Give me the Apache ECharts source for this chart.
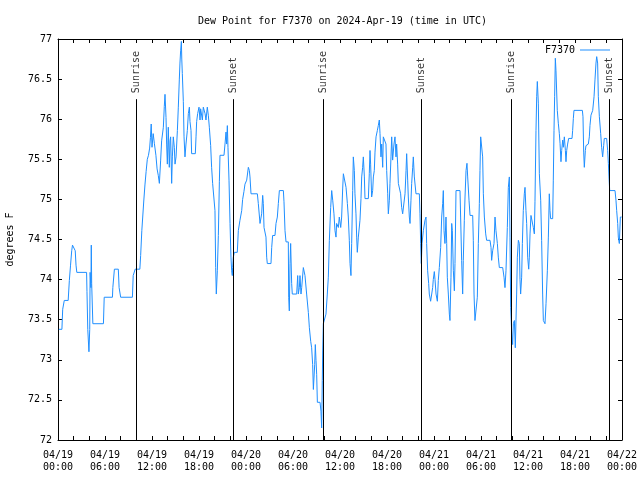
<!DOCTYPE html>
<html>
<head>
<meta charset="utf-8">
<script src="https://cdn.jsdelivr.net/npm/echarts@6/dist/echarts.min.js"></script>
<style>html,body{margin:0;padding:0;background:#fff}#c{width:640px;height:480px}</style>
</head>
<body>
<div id="c"></div>
<script>
// Hours since 2024-04-19 00:00 UTC
const hours = [
0.1,0.5,0.6,0.8,1.3,1.45,1.6,1.75,1.85,2.1,2.2,2.3,2.4,3.65,3.7,3.8,3.95,4.05,4.1,4.2,4.25,4.3,4.45,5.8,5.9,6.95,7.0,7.2,7.7,7.8,8.0,9.5,9.6,9.85,10.45,10.55,10.7,10.95,11.1,11.25,11.4,11.55,11.7,11.8,11.9,
12.0,12.15,12.3,12.5,12.65,12.8,12.94,13.1,13.23,13.45,13.57,13.66,13.79,13.87,13.96,14.08,14.21,14.3,14.38,14.51,14.6,14.72,14.85,14.94,15.07,15.24,15.36,15.49,15.57,15.66,15.75,15.8,15.87,16.0,16.09,16.21,16.34,16.51,16.64,16.77,16.85,16.98,17.06,17.53,17.62,17.7,17.83,18.0,18.13,18.21,18.43,18.55,18.77,18.89,19.06,19.19,19.32,19.49,19.61,19.74,19.96,20.04,20.13,20.21,20.34,20.47,20.6,20.68,21.19,21.32,21.45,21.53,21.62,21.7,21.83,21.96,22.08,22.17,22.25,22.3,22.38,22.51,22.89,23.02,23.23,23.45,23.57,23.74,23.87,
24.09,24.3,24.43,24.51,24.64,25.45,25.57,25.79,25.87,26.0,26.13,26.21,26.3,26.55,26.64,26.72,27.19,27.28,27.4,27.7,27.83,28.0,28.13,28.26,28.77,28.85,28.98,29.11,29.4,29.45,29.53,29.62,29.7,29.83,29.91,30.47,30.6,30.68,30.81,30.89,31.02,31.11,31.32,31.45,31.53,31.74,31.96,32.09,32.26,32.38,32.51,32.6,32.77,32.85,32.94,33.02,33.11,33.28,33.45,33.57,33.66,33.74,33.79,33.87,34.09,34.21,34.38,34.51,34.64,34.81,34.94,35.07,35.23,35.36,35.49,35.57,35.79,35.91,
36.09,36.21,36.34,36.43,36.64,36.77,36.94,37.06,37.19,37.28,37.4,37.49,37.62,37.7,37.83,37.91,38.04,38.13,38.21,38.34,38.55,38.68,38.77,38.89,38.98,39.11,39.19,39.62,39.74,39.83,39.91,40.04,40.17,40.26,40.38,40.47,40.6,40.77,40.89,41.02,41.11,41.23,41.32,41.45,41.53,41.66,41.87,41.96,42.09,42.17,42.3,42.38,42.51,42.6,42.72,42.81,42.89,43.02,43.15,43.23,43.36,43.45,43.66,43.74,43.87,44.0,44.17,44.3,44.43,44.51,44.64,44.72,44.85,44.94,45.06,45.15,45.28,45.36,45.49,45.7,46.13,46.21,46.3,46.38,46.47,46.64,46.85,46.98,47.06,47.19,47.32,47.4,47.57,47.7,47.83,47.91,
48.04,48.13,48.26,48.43,48.55,48.68,48.85,48.98,49.11,49.19,49.28,49.4,49.53,49.62,49.7,49.83,49.96,50.04,50.17,50.26,50.34,50.47,50.6,50.68,50.81,51.32,51.4,51.53,51.66,51.74,51.87,51.96,52.09,52.21,52.3,52.47,52.6,52.94,53.02,53.11,53.23,53.45,53.53,53.66,53.79,53.87,53.96,54.09,54.21,54.3,54.43,54.6,54.72,55.15,55.28,55.36,55.49,55.66,55.79,55.91,56.09,56.21,56.34,56.77,56.94,57.06,57.19,57.36,57.49,57.62,57.7,57.79,57.91,58.04,58.13,58.26,58.38,58.55,58.64,58.77,58.89,58.98,59.06,59.19,59.28,59.4,59.53,59.62,59.74,59.83,59.96,
60.09,60.17,60.26,60.38,60.51,60.68,60.81,60.89,61.02,61.11,61.19,61.32,61.45,61.62,61.74,61.87,61.96,62.17,62.3,62.47,62.6,62.72,62.81,62.89,63.15,63.23,63.32,63.4,63.49,63.57,63.74,63.87,64.0,64.09,64.21,64.3,64.43,64.51,64.64,64.77,64.85,64.94,65.06,65.19,65.62,65.7,65.79,65.87,66.94,67.02,67.11,67.19,67.32,67.4,67.7,67.83,67.91,68.04,68.26,68.43,68.55,68.68,68.77,68.89,68.98,69.11,69.28,69.4,69.53,69.66,69.74,70.04,70.17,70.26,70.34,70.43,71.11,71.23,71.32,71.45,71.53,71.66,71.79,71.95
];
const dewPoint = [
73.38,73.38,73.63,73.74,73.74,73.99,74.18,74.36,74.43,74.43,74.36,74.18,74.09,74.09,73.85,73.38,73.1,73.38,74.09,73.9,74.43,73.95,73.45,73.45,73.78,73.78,73.9,74.13,74.13,73.9,73.78,73.78,74.05,74.13,74.13,74.3,74.61,74.98,75.18,75.35,75.5,75.55,75.64,75.77,75.94,
75.65,75.82,75.7,75.55,75.38,75.3,75.2,75.48,75.73,75.9,76.16,76.31,76.02,75.69,75.44,75.9,75.4,75.73,75.78,75.2,75.53,75.78,75.65,75.44,75.53,75.86,76.15,76.5,76.7,76.86,76.97,76.75,76.57,76.22,75.78,75.53,75.69,75.86,76.07,76.15,75.97,75.86,75.57,75.57,75.78,75.97,76.07,76.15,75.99,76.13,75.99,76.15,76.07,75.99,76.15,76.05,75.9,75.67,75.4,75.2,75.18,74.86,74.15,73.82,74.11,74.55,75.22,75.55,75.55,75.69,75.84,75.69,75.92,75.65,75.24,74.7,74.28,74.11,74.05,74.15,74.28,74.34,74.34,74.61,74.74,74.86,75.0,75.1,75.19,
75.24,75.4,75.36,75.28,75.07,75.07,74.95,74.7,74.7,74.82,75.05,74.95,74.65,74.53,74.28,74.2,74.2,74.4,74.55,74.55,74.7,74.78,74.95,75.11,75.11,74.97,74.61,74.47,74.47,73.78,73.61,74.2,74.45,73.95,73.82,73.82,74.05,73.82,73.9,74.05,73.82,73.9,74.15,74.13,74.05,73.82,73.59,73.4,73.23,73.15,72.94,72.63,72.94,73.19,72.99,72.82,72.47,72.45,72.47,72.36,72.15,72.74,73.11,73.45,73.45,73.57,73.82,74.03,74.49,74.9,75.11,74.99,74.82,74.61,74.53,74.7,74.65,74.78,
74.65,74.78,75.13,75.32,75.32,75.15,74.95,74.78,74.49,74.2,74.05,74.45,75.11,75.53,75.36,75.07,74.82,74.53,74.34,74.53,74.74,75.01,75.28,75.4,75.53,75.28,75.01,75.01,75.32,75.61,75.44,75.03,75.11,75.28,75.36,75.59,75.78,75.86,75.92,75.99,75.82,75.53,75.69,75.4,75.78,75.78,75.69,75.36,75.07,74.82,74.99,75.2,75.53,75.78,75.49,75.51,75.69,75.78,75.53,75.69,75.44,75.2,75.2,75.07,74.9,74.82,74.82,75.07,75.36,75.57,75.24,75.03,74.78,74.7,74.99,75.2,75.4,75.53,75.28,75.07,75.07,74.82,74.45,74.2,74.45,74.61,74.74,74.78,74.45,74.11,73.95,73.82,73.73,73.73,73.9,74.0,
74.1,74.0,73.82,73.73,73.99,74.15,74.4,74.78,74.95,75.11,74.61,74.45,74.78,74.45,74.03,73.82,73.57,73.49,74.03,74.7,74.61,74.11,73.86,74.2,75.11,75.11,74.78,74.24,73.82,74.24,74.74,75.03,75.36,75.45,75.28,74.99,74.8,74.8,74.49,73.82,73.49,73.49,73.78,74.45,74.95,75.36,75.78,75.78,75.53,75.07,74.78,74.57,74.49,74.49,74.4,74.24,74.36,74.45,74.78,74.61,74.45,74.28,74.15,74.15,74.03,73.9,74.11,74.65,75.15,75.28,74.53,73.65,73.36,73.19,73.45,73.49,73.15,73.82,74.28,74.49,74.45,74.0,73.82,74.03,74.45,74.86,75.07,75.15,74.86,74.7,74.28,
74.13,74.28,74.57,74.8,74.78,74.65,74.57,74.97,75.86,76.28,76.47,76.2,75.32,74.99,74.49,73.82,73.49,73.45,73.7,74.11,74.53,75.07,74.86,74.76,74.76,75.24,75.86,76.28,76.76,76.61,76.11,75.95,75.82,75.7,75.47,75.61,75.74,75.65,75.78,75.61,75.47,75.61,75.69,75.76,75.76,75.86,76.01,76.11,76.11,76.03,75.59,75.4,75.61,75.67,75.69,75.78,75.92,76.05,76.11,76.28,76.49,76.7,76.78,76.7,76.28,76.03,75.82,75.65,75.53,75.67,75.76,75.76,75.61,75.45,75.28,75.11,75.11,74.99,74.86,74.7,74.53,74.45,74.78,74.78
];
const sunTimes = [9.96, 22.34, 33.83, 46.34, 57.83, 70.34];
const sunLabels = ['Sunrise', 'Sunset', 'Sunrise', 'Sunset', 'Sunrise', 'Sunset'];
const sunLineTop = 76.25;

const FONT = 'DejaVu Sans Mono';
const pad = n => (n < 10 ? '0' : '') + n;
const xLabel = v => {
  const d = 19 + Math.floor(v / 24);
  return '04/' + pad(d) + '\n' + pad(v % 24) + ':00';
};
const lineData = hours.map((h, i) => [h, dewPoint[i]]);
const sunMarks = sunTimes.map(t => [{coord: [t, 72]}, {coord: [t, sunLineTop]}]);
const sunText = sunTimes.map((t, i) => [t, sunLineTop, sunLabels[i]]);

const axisCommon = {
  type: 'value', min: 0, max: 72, interval: 6,
  axisLine: {show: true, onZero: false, lineStyle: {color: '#000', width: 1}},
  axisTick: {show: true, inside: true, length: 4, lineStyle: {color: '#000'}},
  minorTick: {show: true, splitNumber: 3, length: 4, lineStyle: {color: '#000'}},
  splitLine: {show: false}
};
const yCommon = {
  type: 'value', min: 72, max: 77, interval: 0.5,
  axisLine: {show: true, onZero: false, lineStyle: {color: '#000', width: 1}},
  axisTick: {show: true, inside: true, length: 4, lineStyle: {color: '#000'}},
  splitLine: {show: false}
};

const chart = echarts.init(document.getElementById('c'), null, {renderer: 'canvas'});
chart.setOption({
  animation: false,
  backgroundColor: '#fff',
  title: {
    text: 'Dew Point for F7370 on 2024-Apr-19 (time in UTC)',
    left: 193, top: 11,
    textStyle: {fontFamily: FONT, fontSize: 10, fontWeight: 'normal', color: '#000'}
  },
  legend: {
    data: [{name: 'F7370', icon: 'rect'}], right: 25, top: 40, align: 'right',
    itemWidth: 30, itemHeight: 1, itemGap: 5,
    textStyle: {fontFamily: FONT, fontSize: 10, color: '#000'}
  },
  grid: {left: 58, right: 18, top: 39, bottom: 40, containLabel: false, outerBoundsMode: 'none'},
  xAxis: [
    Object.assign({}, axisCommon, {
      position: 'bottom',
      axisLabel: {formatter: xLabel, fontFamily: FONT, fontSize: 10, color: '#000', margin: 9, lineHeight: 12}
    }),
    Object.assign({}, axisCommon, {position: 'top', axisLabel: {show: false}})
  ],
  yAxis: [
    Object.assign({}, yCommon, {
      position: 'left',
      name: 'degrees F', nameLocation: 'middle', nameRotate: 90, nameGap: 43,
      nameTextStyle: {fontFamily: FONT, fontSize: 10, color: '#000'},
      axisLabel: {fontFamily: FONT, fontSize: 10, color: '#000', margin: 6}
    }),
    Object.assign({}, yCommon, {position: 'right', axisLabel: {show: false}})
  ],
  series: [
    {
      name: 'F7370', type: 'line', data: lineData, symbol: 'none', showSymbol: false,
      xAxisIndex: 0, yAxisIndex: 0,
      lineStyle: {color: '#1f8fff', width: 1}, itemStyle: {color: '#1f8fff'},
      markLine: {
        silent: true, symbol: ['none', 'none'], animation: false,
        lineStyle: {color: '#000', width: 1, type: 'solid'},
        label: {show: false},
        data: sunMarks
      }
    },
    {
      name: 'sun', type: 'scatter', data: sunText, symbolSize: 0,
      xAxisIndex: 0, yAxisIndex: 0, silent: true,
      label: {
        show: true, position: 'top', distance: 6, rotate: 90,
        align: 'left', verticalAlign: 'middle',
        formatter: p => p.data[2],
        fontFamily: FONT, fontSize: 10, color: '#000'
      }
    }
  ]
});
</script>
</body>
</html>
